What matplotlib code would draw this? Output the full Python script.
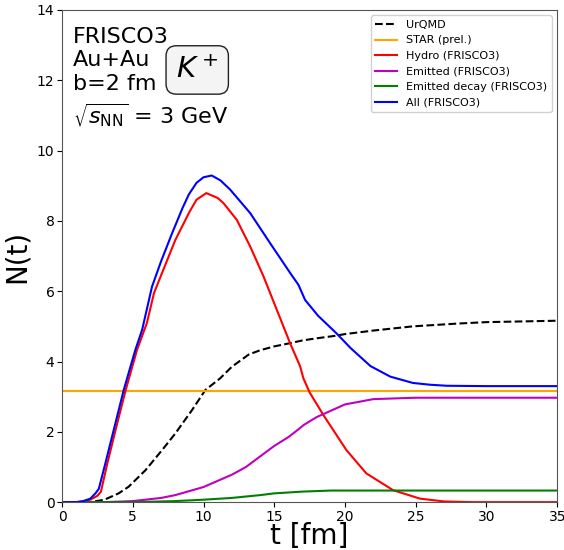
import matplotlib
matplotlib.use("Agg")
import matplotlib.pyplot as plt
import numpy as np

# time grids (fm) and read-off curves
t_all = [0, 1, 1.5, 2, 2.36, 2.6, 3.06, 3.77, 4.36, 5.18, 5.66, 6.36, 7, 7.78, 8.5, 8.96, 9.5, 10, 10.58, 11.2, 11.88, 13.3, 14.7, 16.12, 16.71, 17.18, 18.1, 19.4, 20.4, 21.8, 23.2, 24.8, 26, 27.2, 30, 35]
n_all = [0, 0, 0.03, 0.1, 0.25, 0.38, 1.1, 2.24, 3.19, 4.33, 4.9, 6.13, 6.85, 7.65, 8.35, 8.75, 9.08, 9.24, 9.29, 9.15, 8.89, 8.22, 7.37, 6.52, 6.18, 5.75, 5.3, 4.8, 4.38, 3.87, 3.57, 3.39, 3.34, 3.31, 3.3, 3.3]

t_hydro = [0, 1, 1.5, 2, 2.5, 2.75, 3.2, 3.9, 4.5, 5.3, 6, 6.5, 7, 8, 9, 9.5, 10.2, 11, 11.4, 12.35, 13.3, 14.24, 15.18, 16.12, 16.83, 17.06, 17.5, 18.5, 20.1, 21.5, 23.4, 25.3, 27, 29, 35]
n_hydro = [0, 0, 0.02, 0.07, 0.18, 0.3, 1.1, 2.24, 3.19, 4.33, 5.1, 5.95, 6.45, 7.45, 8.25, 8.6, 8.79, 8.65, 8.51, 8.03, 7.27, 6.42, 5.47, 4.52, 3.86, 3.52, 3.12, 2.46, 1.48, 0.82, 0.34, 0.1, 0.02, 0, 0]

t_urqmd = [0, 2, 3, 4, 4.71, 5.9, 7.07, 8, 9.19, 10.13, 11.17, 12, 13.2, 14, 15, 16.1, 17, 18, 19.3, 20, 22, 24.8, 28, 30, 35]
n_urqmd = [0, 0, 0.07, 0.25, 0.44, 0.91, 1.48, 1.95, 2.62, 3.19, 3.52, 3.85, 4.2, 4.32, 4.43, 4.52, 4.6, 4.66, 4.73, 4.78, 4.88, 5.0, 5.08, 5.12, 5.16]

t_emit = [0, 3, 5, 7, 8, 10, 12, 13, 14, 15, 16, 16.8, 17.1, 18, 19, 20, 22, 25, 35]
n_emit = [0, 0, 0.03, 0.12, 0.2, 0.43, 0.78, 1.0, 1.3, 1.6, 1.85, 2.1, 2.2, 2.42, 2.6, 2.78, 2.93, 2.97, 2.97]

t_decay = [0, 5, 8, 10, 12, 14, 15, 17, 19, 25, 35]
n_decay = [0, 0, 0.03, 0.07, 0.12, 0.2, 0.25, 0.3, 0.33, 0.33, 0.33]

star_value = 3.17

fig = plt.figure(figsize=(5.64, 5.5), dpi=100)
ax = fig.add_axes([0.110, 0.087, 0.878, 0.895])

ax.plot(t_urqmd, n_urqmd, 'k--', lw=1.5, label="UrQMD")
ax.axhline(star_value, color='orange', lw=1.5, label="STAR (prel.)")
ax.plot(t_hydro, n_hydro, 'r', lw=1.5, label="Hydro (FRISCO3)")
ax.plot(t_emit, n_emit, 'm', lw=1.5, label="Emitted (FRISCO3)")
ax.plot(t_decay, n_decay, 'g', lw=1.5, label="Emitted decay (FRISCO3)")
ax.plot(t_all, n_all, 'b', lw=1.5, label="All (FRISCO3)")

ax.set_xlim(0, 35)
ax.set_ylim(0, 14)
ax.set_xlabel("t [fm]", fontsize=20, labelpad=-1)
ax.set_ylabel("N(t)", fontsize=20)
ax.tick_params(labelsize=10, pad=2)
for s in ax.spines.values():
    s.set_color('#555555')

ax.legend(loc='upper right', fontsize=8, framealpha=0.9)

ax.text(0.022, 0.965, "FRISCO3\nAu+Au\nb=2 fm", transform=ax.transAxes,
        fontsize=16, va='top', ha='left', linespacing=1.2)
ax.text(0.022, 0.815, r"$\sqrt{s_{\rm NN}}$ = 3 GeV", transform=ax.transAxes,
        fontsize=16, va='top', ha='left')
ax.text(0.273, 0.878, r"$K^+$", transform=ax.transAxes, fontsize=21,
        va='center', ha='center',
        bbox=dict(boxstyle='round,pad=0.35', fc='#f4f4f4', ec='#222222'))

fig.savefig("out.png", dpi=100)
